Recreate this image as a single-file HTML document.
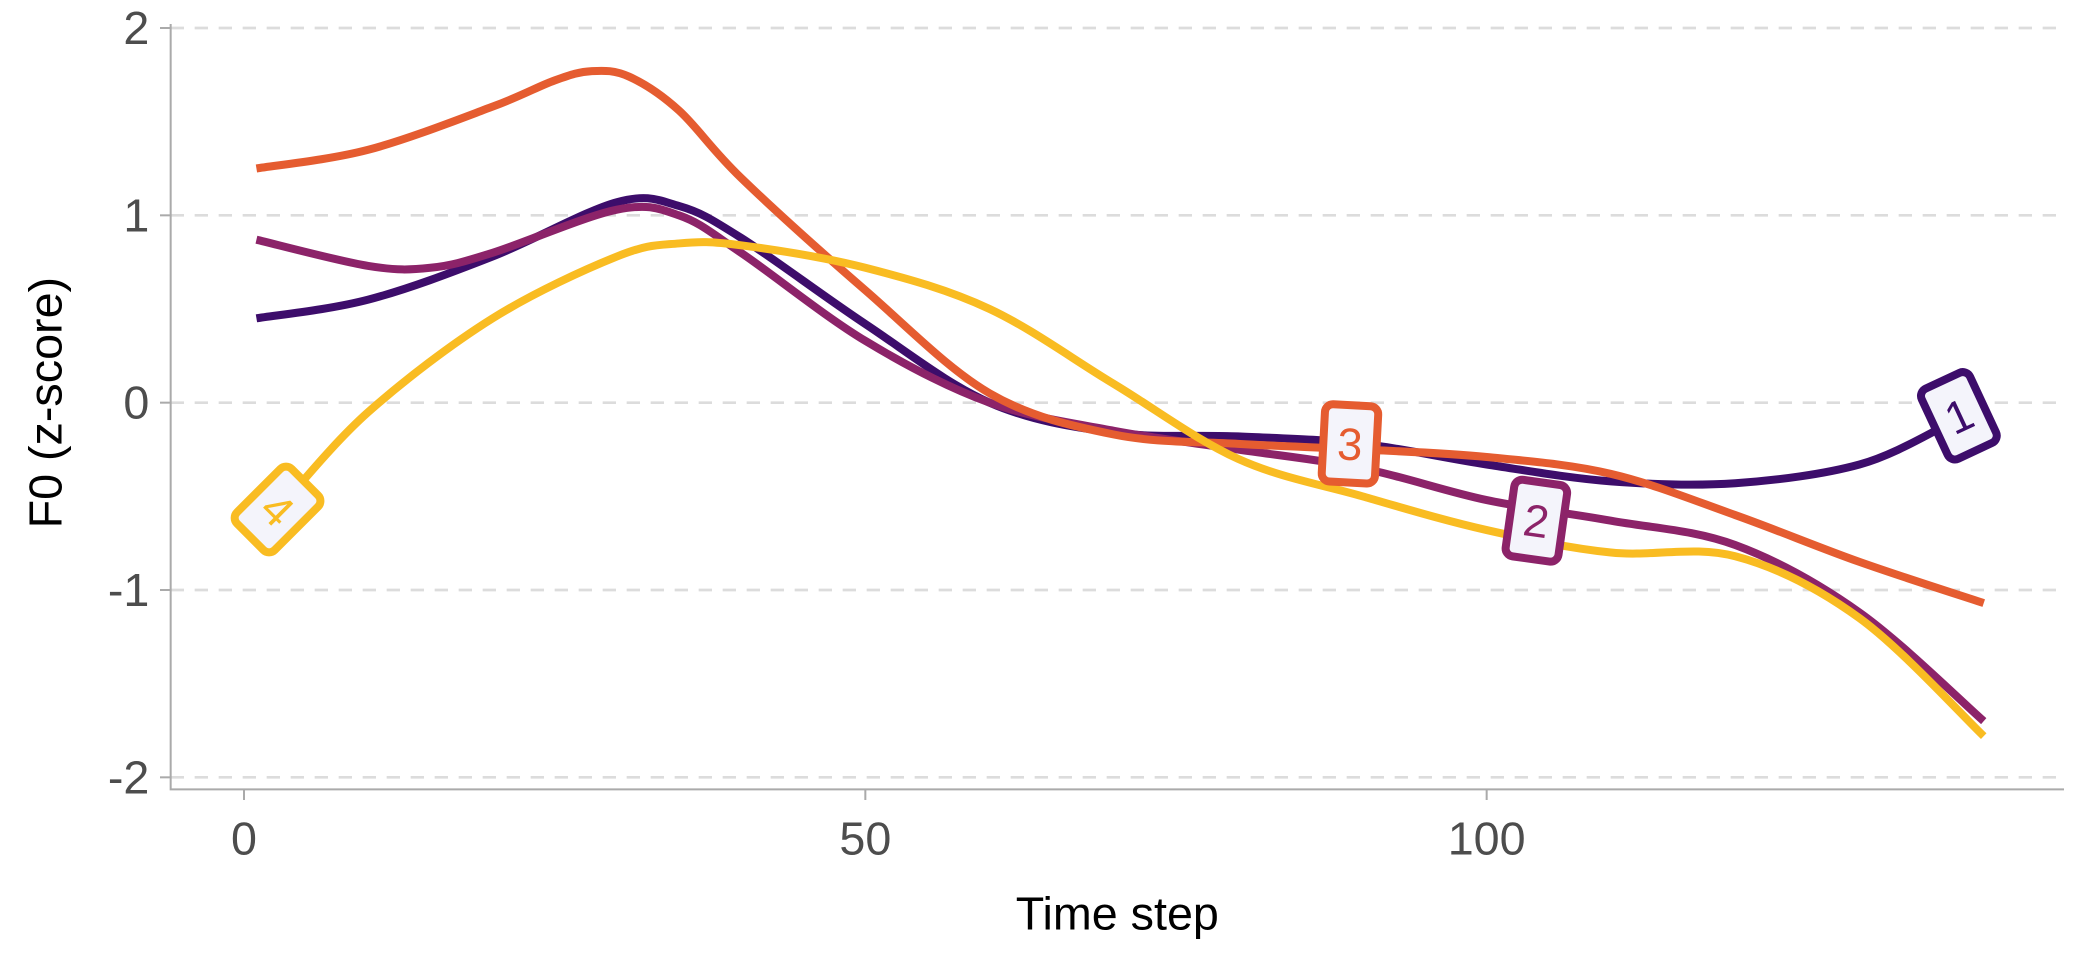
<!DOCTYPE html>
<html><head><meta charset="utf-8"><style>html,body{margin:0;padding:0;background:#fff}svg{display:block}</style></head>
<body>
<svg id="chart" width="2080" height="960" viewBox="0 0 1560 720" xmlns="http://www.w3.org/2000/svg" font-family="Liberation Sans, sans-serif"></svg>
<script>
const timeSteps1 = [1,10,20,30,35,40,50,60,70,80,90,100,110,120,130,137];
const values1 = [0.45,0.55,0.78,1.07,1.05,0.88,0.42,0.0,-0.16,-0.18,-0.22,-0.33,-0.42,-0.43,-0.33,-0.12];
const timeSteps2 = [1,10,15,20,30,35,40,50,60,70,80,90,100,110,120,130,140];
const values2 = [0.87,0.73,0.72,0.8,1.03,1.0,0.8,0.33,0.0,-0.15,-0.25,-0.35,-0.52,-0.63,-0.76,-1.12,-1.7];
const timeSteps3 = [1,10,20,25,28,31,35,40,50,60,70,80,90,100,110,120,130,140];
const values3 = [1.25,1.35,1.58,1.72,1.77,1.74,1.56,1.2,0.6,0.05,-0.17,-0.22,-0.25,-0.29,-0.38,-0.6,-0.85,-1.07];
const timeSteps4 = [3,10,20,30,35,40,50,60,70,80,90,100,110,120,130,140];
const values4 = [-0.55,-0.05,0.45,0.78,0.85,0.84,0.72,0.5,0.1,-0.3,-0.5,-0.68,-0.8,-0.82,-1.15,-1.78];
const xTicks = [0,50,100];
const yTicks = [2,1,0,-1,-2];
const seriesNames = ["1","2","3","4"];

const svg = document.getElementById('chart');
const NS = 'http://www.w3.org/2000/svg';
const X = t => 183 + t * 9.32;
const Y = v => 302 - v * 140.5;
function mk(tag, attrs, parent){const e=document.createElementNS(NS,tag);for(const k in attrs)e.setAttribute(k,attrs[k]);(parent||svg).appendChild(e);return e;}

yTicks.forEach(v=>{
  const g=mk('line',{x1:128,x2:1548,y1:Y(v),y2:Y(v),stroke:'#dcdcdc','stroke-width':2,'stroke-dasharray':'10,8'});
  
  
  const t=mk('text',{x:112,y:Y(v)+12,'text-anchor':'end','font-size':35,fill:'#4d4d4d'});
  t.textContent=v;
  
  
  const tk=mk('line',{x1:120,x2:128,y1:Y(v),y2:Y(v),stroke:'#aaa','stroke-width':1.5});
  
  
});
xTicks.forEach(v=>{
  const t=mk('text',{x:X(v),y:641,'text-anchor':'middle','font-size':35,fill:'#4d4d4d'});
  t.textContent=v;
  
  
  const tk=mk('line',{x1:X(v),x2:X(v),y1:592,y2:600,stroke:'#aaa','stroke-width':1.5});
  
  
});
const ax=mk('path',{d:'M128 18 V592 H1548',fill:'none',stroke:'#aaa','stroke-width':1.5});


const xt=mk('text',{x:838,y:697,'text-anchor':'middle','font-size':35,fill:'#000'});
xt.textContent='Time step';


const yt=mk('text',{x:0,y:0,'text-anchor':'middle','font-size':35,fill:'#000',transform:'translate(46,302) rotate(-90)'});
yt.textContent='F0 (z-score)';



function smooth(ts,vs){
  const p=ts.map((t,i)=>[X(t),Y(vs[i])]);
  let d='M'+p[0][0]+' '+p[0][1];
  for(let i=0;i<p.length-1;i++){
    const p0=p[Math.max(0,i-1)],p1=p[i],p2=p[i+1],p3=p[Math.min(p.length-1,i+2)];
    const c1=[p1[0]+(p2[0]-p0[0])/6,p1[1]+(p2[1]-p0[1])/6];
    const c2=[p2[0]-(p3[0]-p1[0])/6,p2[1]-(p3[1]-p1[1])/6];
    d+=` C${c1[0]} ${c1[1]} ${c2[0]} ${c2[1]} ${p2[0]} ${p2[1]}`;
  }
  return d;
}
const series=[[timeSteps1,values1,'#3d0d6b'],[timeSteps2,values2,'#8c2369'],[timeSteps3,values3,'#e55c30'],[timeSteps4,values4,'#f9bc22']];
series.forEach((s,i)=>{
  const l=mk('path',{d:smooth(s[0],s[1]),fill:'none',stroke:s[2],'stroke-width':6,'stroke-linejoin':'round'});
  
  
});
const labelPos=[[0,138,-0.07,-25],[1,104,-0.63,8],[2,89,-0.22,3],[3,2.7,-0.57,45]];
labelPos.forEach(lp=>{
  const s=series[lp[0]];
  const g=mk('g',{transform:`translate(${X(lp[1])},${Y(lp[2])}) rotate(${lp[3]})`});
  
  
  mk('rect',{x:-20,y:-29,width:40,height:58,rx:6,fill:'#f4f4fb',stroke:s[2],'stroke-width':6},g);
  const t=mk('text',{x:0,y:12,'text-anchor':'middle','font-size':34,fill:s[2]},g);
  t.textContent=seriesNames[lp[0]];
});
</script>
</body></html>
